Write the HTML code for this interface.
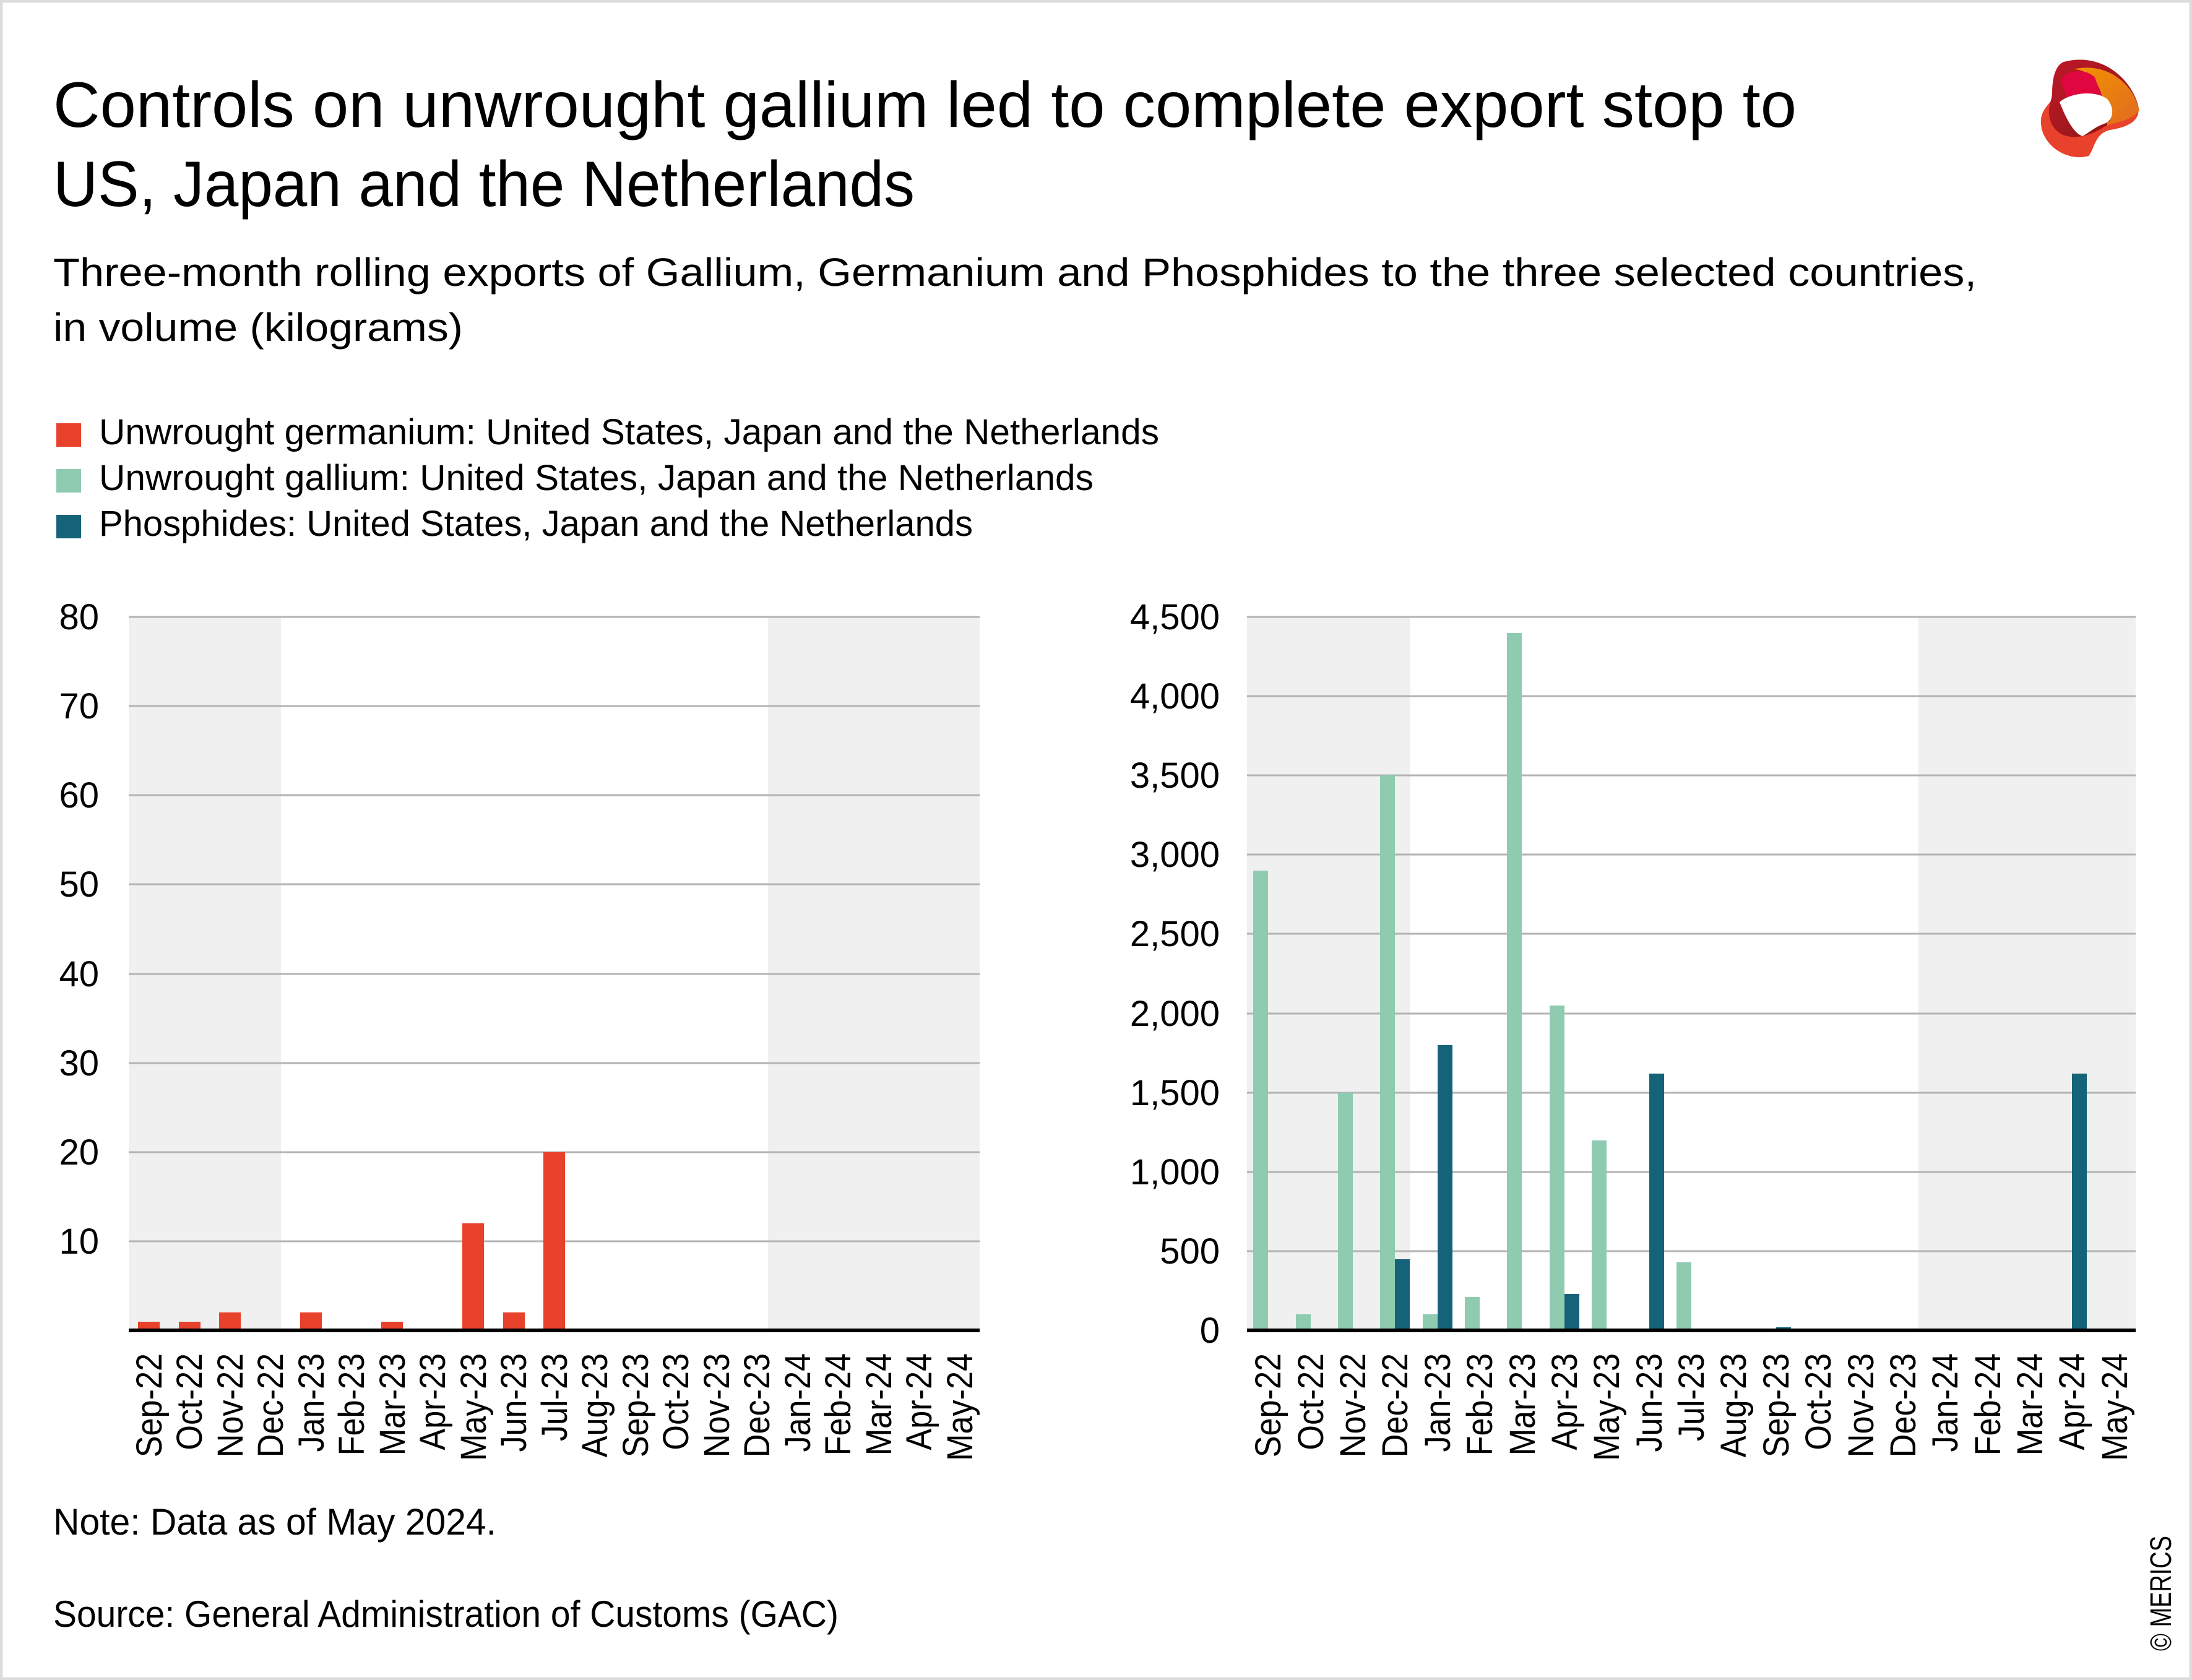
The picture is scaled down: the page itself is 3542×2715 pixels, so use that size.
<!DOCTYPE html>
<html><head><meta charset="utf-8"><style>
html,body{margin:0;padding:0;background:#fff}
svg{display:block}
text{font-family:"Liberation Sans",sans-serif;fill:#000}
</style></head><body>
<svg width="3542" height="2715" viewBox="0 0 3542 2715" xmlns="http://www.w3.org/2000/svg">
<defs>
<linearGradient id="g1" x1="0" y1="0" x2="1" y2="1"><stop offset="0" stop-color="#c0182a"/><stop offset="1" stop-color="#8a1712"/></linearGradient>
<linearGradient id="g2" x1="0" y1="0" x2="1" y2="1"><stop offset="0" stop-color="#f39200"/><stop offset="1" stop-color="#e06a20"/></linearGradient>
</defs>
<rect x="2" y="2" width="3538" height="2711" fill="#fff" stroke="#dcdcdc" stroke-width="5"/>

<!-- Title -->
<text x="86" y="205" font-size="104" textLength="2817" lengthAdjust="spacingAndGlyphs">Controls on unwrought gallium led to complete export stop to</text>
<text x="86" y="333" font-size="104" textLength="1392" lengthAdjust="spacingAndGlyphs">US, Japan and the Netherlands</text>
<text x="86" y="462" font-size="64" textLength="3108" lengthAdjust="spacingAndGlyphs">Three-month rolling exports of Gallium, Germanium and Phosphides to the three selected countries,</text>
<text x="86" y="551" font-size="64" textLength="662" lengthAdjust="spacingAndGlyphs">in volume (kilograms)</text>

<!-- Logo -->
<g>
<path d="M3335 100 C3390 85 3440 120 3455 170 C3460 195 3440 205 3410 210 C3385 215 3385 240 3375 252 C3340 262 3300 235 3298 200 C3296 180 3310 170 3316 160 C3316 130 3320 105 3335 100 Z" fill="#e8412c"/>
<path d="M3335 100 C3390 85 3440 120 3455 170 C3450 190 3420 195 3400 205 C3370 225 3330 230 3315 200 C3305 175 3316 165 3316 150 C3316 125 3322 105 3335 100 Z" fill="url(#g1)"/>
<path d="M3350 112 C3400 100 3445 130 3457 178 C3445 195 3420 197 3405 203 L3395 150 C3385 120 3365 112 3350 112 Z" fill="url(#g2)"/>
<path d="M3330 130 C3340 112 3370 110 3385 125 L3410 195 C3390 205 3370 215 3360 215 Z" fill="#e0063f"/>
<path d="M3328 165 C3345 150 3385 145 3405 160 C3418 175 3415 195 3400 200 C3385 205 3375 215 3365 220 C3350 215 3338 190 3328 165 Z" fill="#fff"/>
</g>

<!-- Legend -->
<rect x="91" y="684" width="40" height="38" fill="#e8412c"/>
<text x="160" y="718" font-size="58" textLength="1713" lengthAdjust="spacingAndGlyphs">Unwrought germanium: United States, Japan and the Netherlands</text>
<rect x="91" y="758" width="40" height="38" fill="#8ecbb0"/>
<text x="160" y="792" font-size="58" textLength="1607" lengthAdjust="spacingAndGlyphs">Unwrought gallium: United States, Japan and the Netherlands</text>
<rect x="91" y="832" width="40" height="38" fill="#156378"/>
<text x="160" y="866" font-size="58" textLength="1412" lengthAdjust="spacingAndGlyphs">Phosphides: United States, Japan and the Netherlands</text>

<!-- LEFT CHART -->
<rect x="208" y="997" width="246" height="1153" fill="#f0f0f0"/>
<rect x="1241" y="997" width="342" height="1153" fill="#f0f0f0"/>
<g stroke="#b3b3b3" stroke-width="3">
<line x1="208" x2="1583" y1="997" y2="997"/>
<line x1="208" x2="1583" y1="1141" y2="1141"/>
<line x1="208" x2="1583" y1="1285" y2="1285"/>
<line x1="208" x2="1583" y1="1429" y2="1429"/>
<line x1="208" x2="1583" y1="1574" y2="1574"/>
<line x1="208" x2="1583" y1="1718" y2="1718"/>
<line x1="208" x2="1583" y1="1862" y2="1862"/>
<line x1="208" x2="1583" y1="2006" y2="2006"/>
</g>
<g font-size="58" text-anchor="end">
<text x="160" y="1017">80</text>
<text x="160" y="1161">70</text>
<text x="160" y="1305">60</text>
<text x="160" y="1449">50</text>
<text x="160" y="1594">40</text>
<text x="160" y="1738">30</text>
<text x="160" y="1882">20</text>
<text x="160" y="2026">10</text>
</g>
<g fill="#e8412c">
<rect x="223" y="2136" width="35" height="14"/>
<rect x="289" y="2136" width="35" height="14"/>
<rect x="354" y="2121" width="35" height="29"/>
<rect x="485" y="2121" width="35" height="29"/>
<rect x="616" y="2136" width="35" height="14"/>
<rect x="747" y="1977" width="35" height="173"/>
<rect x="813" y="2121" width="35" height="29"/>
<rect x="878" y="1862" width="35" height="288"/>
</g>
<line x1="208" x2="1583" y1="2150" y2="2150" stroke="#000" stroke-width="6"/>
<g font-size="58" text-anchor="end">
<text transform="translate(261,2187) rotate(-90) scale(0.9,1)">Sep-22</text>
<text transform="translate(326,2187) rotate(-90) scale(0.9,1)">Oct-22</text>
<text transform="translate(392,2187) rotate(-90) scale(0.9,1)">Nov-22</text>
<text transform="translate(457,2187) rotate(-90) scale(0.9,1)">Dec-22</text>
<text transform="translate(523,2187) rotate(-90) scale(0.9,1)">Jan-23</text>
<text transform="translate(588,2187) rotate(-90) scale(0.9,1)">Feb-23</text>
<text transform="translate(654,2187) rotate(-90) scale(0.9,1)">Mar-23</text>
<text transform="translate(719,2187) rotate(-90) scale(0.9,1)">Apr-23</text>
<text transform="translate(785,2187) rotate(-90) scale(0.9,1)">May-23</text>
<text transform="translate(850,2187) rotate(-90) scale(0.9,1)">Jun-23</text>
<text transform="translate(916,2187) rotate(-90) scale(0.9,1)">Jul-23</text>
<text transform="translate(981,2187) rotate(-90) scale(0.9,1)">Aug-23</text>
<text transform="translate(1047,2187) rotate(-90) scale(0.9,1)">Sep-23</text>
<text transform="translate(1112,2187) rotate(-90) scale(0.9,1)">Oct-23</text>
<text transform="translate(1178,2187) rotate(-90) scale(0.9,1)">Nov-23</text>
<text transform="translate(1243,2187) rotate(-90) scale(0.9,1)">Dec-23</text>
<text transform="translate(1309,2187) rotate(-90) scale(0.9,1)">Jan-24</text>
<text transform="translate(1374,2187) rotate(-90) scale(0.9,1)">Feb-24</text>
<text transform="translate(1440,2187) rotate(-90) scale(0.9,1)">Mar-24</text>
<text transform="translate(1505,2187) rotate(-90) scale(0.9,1)">Apr-24</text>
<text transform="translate(1571,2187) rotate(-90) scale(0.9,1)">May-24</text>
</g>

<!-- RIGHT CHART -->
<rect x="2015" y="997" width="264" height="1153" fill="#f0f0f0"/>
<rect x="3100" y="997" width="351" height="1153" fill="#f0f0f0"/>
<g stroke="#b3b3b3" stroke-width="3">
<line x1="2015" x2="3451" y1="997" y2="997"/>
<line x1="2015" x2="3451" y1="1125" y2="1125"/>
<line x1="2015" x2="3451" y1="1253" y2="1253"/>
<line x1="2015" x2="3451" y1="1381" y2="1381"/>
<line x1="2015" x2="3451" y1="1509" y2="1509"/>
<line x1="2015" x2="3451" y1="1638" y2="1638"/>
<line x1="2015" x2="3451" y1="1766" y2="1766"/>
<line x1="2015" x2="3451" y1="1894" y2="1894"/>
<line x1="2015" x2="3451" y1="2022" y2="2022"/>
</g>
<g font-size="58" text-anchor="end">
<text x="1971" y="1017">4,500</text>
<text x="1971" y="1145">4,000</text>
<text x="1971" y="1273">3,500</text>
<text x="1971" y="1401">3,000</text>
<text x="1971" y="1529">2,500</text>
<text x="1971" y="1658">2,000</text>
<text x="1971" y="1786">1,500</text>
<text x="1971" y="1914">1,000</text>
<text x="1971" y="2042">500</text>
<text x="1971" y="2170">0</text>
</g>
<g fill="#8ecbb0">
<rect x="2025" y="1407" width="24" height="743"/>
<rect x="2094" y="2124" width="24" height="26"/>
<rect x="2162" y="1766" width="24" height="384"/>
<rect x="2230" y="1253" width="24" height="897"/>
<rect x="2299" y="2124" width="24" height="26"/>
<rect x="2367" y="2096" width="24" height="54"/>
<rect x="2435" y="1023" width="24" height="1127"/>
<rect x="2504" y="1625" width="24" height="525"/>
<rect x="2572" y="1843" width="24" height="307"/>
<rect x="2709" y="2040" width="24" height="110"/>
</g>
<g fill="#156378">
<rect x="2254" y="2035" width="24" height="115"/>
<rect x="2323" y="1689" width="24" height="461"/>
<rect x="2528" y="2091" width="24" height="59"/>
<rect x="2665" y="1735" width="24" height="415"/>
<rect x="2870" y="2145" width="24" height="5"/>
<rect x="3348" y="1735" width="24" height="415"/>
</g>
<line x1="2015" x2="3451" y1="2150" y2="2150" stroke="#000" stroke-width="6"/>
<g font-size="58" text-anchor="end">
<text transform="translate(2069,2187) rotate(-90) scale(0.9,1)">Sep-22</text>
<text transform="translate(2138,2187) rotate(-90) scale(0.9,1)">Oct-22</text>
<text transform="translate(2206,2187) rotate(-90) scale(0.9,1)">Nov-22</text>
<text transform="translate(2274,2187) rotate(-90) scale(0.9,1)">Dec-22</text>
<text transform="translate(2343,2187) rotate(-90) scale(0.9,1)">Jan-23</text>
<text transform="translate(2411,2187) rotate(-90) scale(0.9,1)">Feb-23</text>
<text transform="translate(2480,2187) rotate(-90) scale(0.9,1)">Mar-23</text>
<text transform="translate(2548,2187) rotate(-90) scale(0.9,1)">Apr-23</text>
<text transform="translate(2616,2187) rotate(-90) scale(0.9,1)">May-23</text>
<text transform="translate(2685,2187) rotate(-90) scale(0.9,1)">Jun-23</text>
<text transform="translate(2753,2187) rotate(-90) scale(0.9,1)">Jul-23</text>
<text transform="translate(2821,2187) rotate(-90) scale(0.9,1)">Aug-23</text>
<text transform="translate(2890,2187) rotate(-90) scale(0.9,1)">Sep-23</text>
<text transform="translate(2958,2187) rotate(-90) scale(0.9,1)">Oct-23</text>
<text transform="translate(3027,2187) rotate(-90) scale(0.9,1)">Nov-23</text>
<text transform="translate(3095,2187) rotate(-90) scale(0.9,1)">Dec-23</text>
<text transform="translate(3163,2187) rotate(-90) scale(0.9,1)">Jan-24</text>
<text transform="translate(3232,2187) rotate(-90) scale(0.9,1)">Feb-24</text>
<text transform="translate(3300,2187) rotate(-90) scale(0.9,1)">Mar-24</text>
<text transform="translate(3368,2187) rotate(-90) scale(0.9,1)">Apr-24</text>
<text transform="translate(3437,2187) rotate(-90) scale(0.9,1)">May-24</text>
</g>

<!-- Footer -->
<text x="86" y="2480" font-size="60" textLength="716" lengthAdjust="spacingAndGlyphs">Note: Data as of May 2024.</text>
<text x="86" y="2629" font-size="60" textLength="1269" lengthAdjust="spacingAndGlyphs">Source: General Administration of Customs (GAC)</text>
<text transform="translate(3508,2668) rotate(-90)" font-size="48" textLength="186" lengthAdjust="spacingAndGlyphs">© MERICS</text>
</svg>
</body></html>
